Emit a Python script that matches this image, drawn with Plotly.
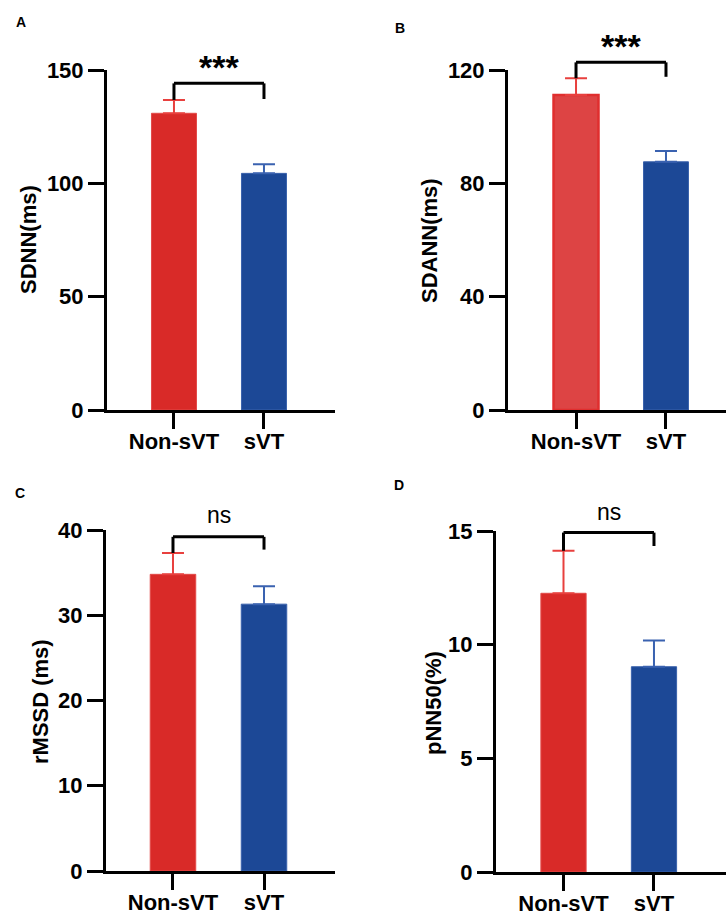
import plotly.graph_objects as go

W, H = 726, 915

groups = ["Non-sVT", "sVT"]

sdnn_mean = [130.9, 104.4]
sdnn_err = [5.9, 4.0]
sdann_mean = [111.2, 87.6]
sdann_err = [5.9, 3.8]
rmssd_mean = [34.8, 31.3]
rmssd_err = [2.5, 2.1]
pnn50_mean = [12.26, 9.03]
pnn50_err = [1.87, 1.15]

ytitles = ["SDNN(ms)", "SDANN(ms)", "rMSSD (ms)", "pNN50(%)"]
panel_letters = ["A", "B", "C", "D"]
yticks = [[0, 50, 100, 150], [0, 40, 80, 120], [0, 10, 20, 30, 40], [0, 5, 10, 15]]
sig_labels = ["***", "***", "ns", "ns"]
bracket_top = [144.1, 122.7, 39.2, 14.93]
bracket_right_foot = [137.2, 117.6, 37.7, 14.34]
sig_y = [151.5, 128.4, 41.8, 15.84]

means = [sdnn_mean, sdann_mean, rmssd_mean, pnn50_mean]
errs = [sdnn_err, sdann_err, rmssd_err, pnn50_err]

# layout (pixels)
px_dom = [
    (107, 335, 70, 410),
    (508, 726, 70, 410),
    (106, 335, 530, 871),
    (496, 726, 531, 872),
]
xranges = [[-0.744, 1.789], [-0.756, 1.667], [-0.736, 1.78], [-0.746, 1.796]]
title_pos = [(28, 240), (430, 241), (40, 702), (433, 703)]
letter_pos = [(21, 22), (400, 28), (20, 493), (399, 485)]

RED = "#D92A28"
BLUE = "#1C4896"
fills = [[RED, BLUE], ["#DD4444", BLUE], [RED, BLUE], [RED, BLUE]]
edges = [["#E24A48", "#3A62AC"], ["#E02E2E", "#3A62AC"], ["#E24A48", "#3A62AC"], ["#E24A48", "#3A62AC"]]
edge_w = [[1, 1], [2.5, 1], [1, 1], [1, 1]]
err_cols = [["#E8403E", "#3A62B0"]] * 4

FONT = "Liberation Sans, Arial, Helvetica, sans-serif"

fig = go.Figure()
layout = dict(
    template="none",
    width=W, height=H, margin=dict(l=0, r=0, t=0, b=0, pad=0), autosize=False,
    paper_bgcolor="white", plot_bgcolor="rgba(0,0,0,0)",
    showlegend=False, barmode="overlay",
    font=dict(family=FONT, color="black"),
)
shapes = []
annotations = []

for p in range(4):
    sfx = "" if p == 0 else str(p + 1)
    xa, ya = "x" + sfx, "y" + sfx
    for g in range(2):
        fig.add_trace(go.Bar(
            x=[groups[g]], y=[means[p][g]], width=0.5,
            marker=dict(color=fills[p][g], line=dict(color=edges[p][g], width=edge_w[p][g])),
            error_y=dict(type="data", array=[errs[p][g]], arrayminus=[0], symmetric=False,
                         color=err_cols[p][g], thickness=2, width=11),
            xaxis=xa, yaxis=ya, hoverinfo="skip",
        ))
    x0, x1, y0, y1 = px_dom[p]
    ymax = yticks[p][-1]
    layout["xaxis" + sfx] = dict(
        domain=[x0 / W, x1 / W], anchor=ya, type="category", automargin=False,
        categoryorder="array", categoryarray=groups, range=xranges[p],
        showline=True, linewidth=3, linecolor="black", showgrid=False, zeroline=False,
        ticks="outside", ticklen=16, tickwidth=3, tickcolor="black",
        ticklabelstandoff=-6,
        tickfont=dict(family=FONT, size=22, color="black", weight="bold"),
    )
    layout["yaxis" + sfx] = dict(
        domain=[1 - y1 / H, 1 - y0 / H], anchor=xa, range=[0, ymax], automargin=False,
        tickvals=yticks[p], showline=True, linewidth=3, linecolor="black",
        showgrid=False, zeroline=False,
        ticks="outside", ticklen=16, tickwidth=3, tickcolor="black",
        tickfont=dict(family=FONT, size=22, color="black", weight="bold"),
    )
    # significance bracket (y in domain fraction = value / ymax)
    yref = ya + " domain"
    top = bracket_top[p] / ymax
    lfoot = (means[p][0] + errs[p][0]) / ymax
    rfoot = bracket_right_foot[p] / ymax
    line = dict(color="black", width=3)
    shapes.append(dict(type="line", xref=xa, yref=yref, x0=0, x1=1, y0=top, y1=top, line=line))
    shapes.append(dict(type="line", xref=xa, yref=yref, x0=0, x1=0, y0=top, y1=lfoot, line=line))
    shapes.append(dict(type="line", xref=xa, yref=yref, x0=1, x1=1, y0=top, y1=rfoot, line=line))
    is_star = sig_labels[p] == "***"
    annotations.append(dict(
        text=sig_labels[p], xref=xa, yref=yref, x=0.5, y=sig_y[p] / ymax,
        xanchor="center", yanchor="middle", showarrow=False,
        font=dict(family=FONT, size=34 if is_star else 23, color="black",
                  weight="bold" if is_star else "normal"),
    ))
    tx, ty = title_pos[p]
    annotations.append(dict(
        text=ytitles[p], xref="paper", yref="paper", x=tx / W, y=1 - ty / H,
        xanchor="center", yanchor="middle", textangle=-90, showarrow=False,
        font=dict(family=FONT, size=22, color="black", weight="bold"),
    ))
    lx, ly = letter_pos[p]
    annotations.append(dict(
        text=panel_letters[p], xref="paper", yref="paper", x=lx / W, y=1 - ly / H,
        xanchor="center", yanchor="middle", showarrow=False,
        font=dict(family=FONT, size=14, color="black", weight="bold"),
    ))

layout["shapes"] = shapes
layout["annotations"] = annotations
fig.update_layout(**layout)

post = ("document.body.style.margin='0px';"
        "var d=document.getElementById('{plot_id}');"
        "d.style.position='fixed';d.style.left='0px';d.style.top='0px';")
fig.write_html("out.html", post_script=post, config={"displayModeBar": False})
